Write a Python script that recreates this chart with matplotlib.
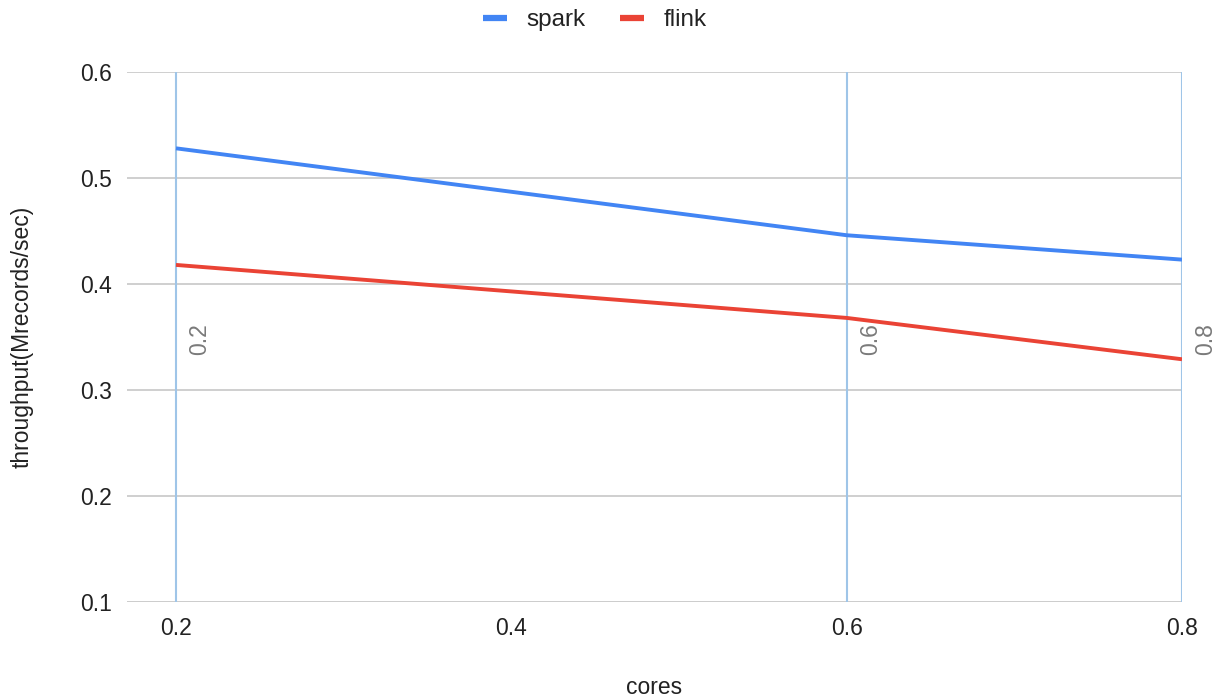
import matplotlib
matplotlib.use("Agg")
import matplotlib.pyplot as plt
from matplotlib.lines import Line2D

plt.rcParams['font.family'] = ['Liberation Sans', 'DejaVu Sans']

cores = [0.2, 0.6, 0.8]
spark = [0.528, 0.446, 0.423]
flink = [0.418, 0.368, 0.329]
marker_labels = ["0.2", "0.6", "0.8"]
x_ticks = [0.2, 0.4, 0.6, 0.8]
y_ticks = [0.1, 0.2, 0.3, 0.4, 0.5, 0.6]

BLUE = "#4285F4"
RED = "#EA4335"
VLINE = "#9FC5E8"

fig = plt.figure(figsize=(12.21, 7.0), dpi=100)
ax = fig.add_axes([127 / 1221, 1 - 602 / 700, (1182 - 127) / 1221, (602 - 72) / 700])

ax.set_xlim(0.2 - 49 / 1676.7, 0.8)
ax.set_ylim(0.1, 0.6)

# horizontal gridlines
for y in y_ticks[1:]:
    ax.axhline(y, color="#CCCCCC", lw=1.3, zorder=1)
ax.axhline(0.1, color="#BDBDBD", lw=1.8, zorder=1)

# vertical reference lines with their labels
for xv, lab in zip(cores, marker_labels):
    ax.axvline(xv, color=VLINE, lw=1.5, zorder=2)
    ax.text(xv + 0.0075, 0.333, lab, rotation=90, ha="left", va="bottom",
            color="#7A7A7A", fontsize=16.5, zorder=4)

ax.plot(cores, spark, color=BLUE, lw=2.8, zorder=3, solid_capstyle="butt")
ax.plot(cores, flink, color=RED, lw=2.8, zorder=3, solid_capstyle="butt")

for s in ax.spines.values():
    s.set_visible(False)

ax.set_xticks(x_ticks)
ax.set_xticklabels([f"{v:.1f}" for v in x_ticks])
ax.set_yticks(y_ticks)
ax.set_yticklabels([f"{v:.1f}" for v in y_ticks])
ax.tick_params(axis="both", length=0, labelsize=16.5, labelcolor="#222222")
ax.tick_params(axis="x", pad=11)
ax.tick_params(axis="y", pad=11)

fig.text(654 / 1221, 1 - 688 / 700, "cores", ha="center", va="center",
         fontsize=16.5, color="#222222")
fig.text(22 / 1221, 1 - 337 / 700, "throughput(Mrecords/sec)", ha="center",
         va="center", rotation=90, fontsize=16.5, color="#222222")

handles = [Line2D([0], [0], color=BLUE, lw=4.5, solid_capstyle="butt"),
           Line2D([0], [0], color=RED, lw=4.5, solid_capstyle="butt")]
fig.legend(handles, ["spark", "flink"], loc="center", bbox_to_anchor=(595 / 1221, 1 - 20 / 700),
           ncol=2, frameon=False, fontsize=17.5, handlelength=1.0,
           handletextpad=0.8, columnspacing=1.4, labelcolor="#222222")

fig.savefig("out.png", dpi=100)
